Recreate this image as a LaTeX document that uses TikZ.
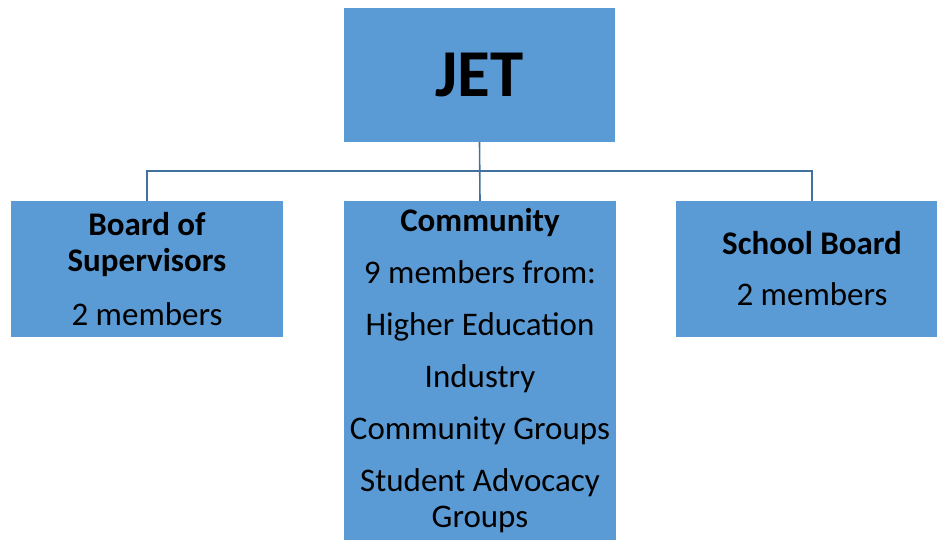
\documentclass[tikz,border=0pt]{standalone}
\usepackage{fontspec}
\setmainfont{Carlito}
\definecolor{boxblue}{RGB}{91,155,213}
\definecolor{linkblue}{RGB}{65,113,156}
\tikzset{
  unit/.style={fill=boxblue, inner sep=0pt, minimum width=272pt, align=center,
    font=\fontsize{33}{36}\selectfont},
  link/.style={draw=linkblue, line width=1.6pt}
}
\begin{document}
\begin{tikzpicture}[x=1pt,y=-1pt]
            \useasboundingbox (0,0) rectangle (937,544);

            % Top box
            \node[unit, minimum width=271pt, minimum height=134pt,
              font=\fontsize{67}{70}\selectfont\bfseries] (jet) at (479.5,75) {JET};

            % Member boxes
            \node[unit, minimum height=136pt] (board) at (147,269)
              {\textbf{Board of}\\\textbf{Supervisors}\\[18pt]2 members};
            \node[unit, minimum height=339pt] (comm) at (480,370.5)
              {\textbf{Community}\\[16pt]9 members from:\\[16pt]Higher Education\\[16pt]Industry\\[16pt]Community Groups\\[16pt]Student Advocacy\\Groups};
            \node[unit, minimum height=136pt] (school) at (812,269)
              {\textbf{School Board}\\[15pt]2 members};

            % Connectors
            \coordinate (bar) at (480,171);
            \draw[link] (jet.south) -- (comm.north);
            \draw[link] (board.north) |- (bar) -| (school.north);
\end{tikzpicture}
\end{document}
